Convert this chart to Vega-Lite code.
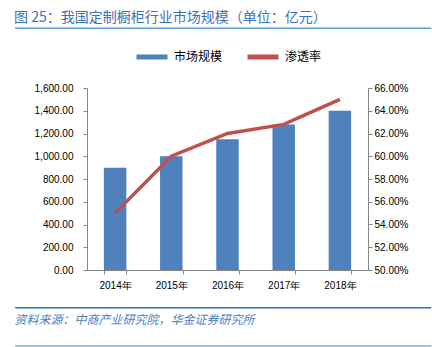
{
  "$schema": "https://vega.github.io/schema/vega-lite/v6.json",
  "padding": {"left": 14, "top": 10, "right": 2, "bottom": 1},
  "spacing": 1,
  "title": {"text": "图 25：我国定制橱柜行业市场规模（单位：亿元）", "anchor": "start", "frame": "bounds", "fontSize": 14, "font": "Noto Sans CJK SC", "color": "#3d71b8", "fontWeight": "normal", "offset": 3},
  "resolve": {"scale": {"color": "independent"}, "legend": {"color": "independent"}},
  "config": {
    "font": "Liberation Sans",
    "axis": {"grid": false},
    "legend": {"layout": {"top": {"anchor": "middle"}}}
  },
  "vconcat": [
    {
      "width": 344,
      "height": 10,
      "view": {"stroke": null},
      "data": {"values": [{"k": 0}]},
      "mark": {"type": "rule", "color": "#5b9bd5", "strokeWidth": 1},
      "encoding": {
        "x": {"datum": 0, "type": "quantitative", "scale": {"domain": [0, 1], "range": [-72, 344]},
          "axis": {"orient": "top", "domainColor": "#5b9bd5", "domainWidth": 1, "ticks": false, "labels": false, "title": null, "grid": false}},
        "x2": {"datum": 1},
        "y": {"datum": 1, "type": "quantitative", "scale": {"domain": [0, 1]}, "axis": null}
      }
    },
    {
      "width": 281,
      "height": 182,
      "view": {"stroke": null},
      "data": {"values": [
        {"year": "2014年", "market": 900, "rate": 0.55},
        {"year": "2015年", "market": 1000, "rate": 0.60},
        {"year": "2016年", "market": 1150, "rate": 0.62},
        {"year": "2017年", "market": 1280, "rate": 0.628},
        {"year": "2018年", "market": 1400, "rate": 0.65}
      ]},
      "encoding": {
        "x": {
          "field": "year", "type": "ordinal", "sort": null,
          "scale": {"paddingInner": 0.6, "paddingOuter": 0.3},
          "axis": {"title": null, "labelAngle": 0, "tickBand": "extent", "domainColor": "#868686", "tickColor": "#868686", "tickSize": 4, "labelPadding": 6, "labelFontSize": 10, "labelColor": "#000000"}
        }
      },
      "layer": [
        {
          "mark": {"type": "bar"},
          "encoding": {
            "y": {"field": "market", "type": "quantitative", "scale": {"domain": [0, 1600]},
              "axis": {"title": null, "values": [0, 200, 400, 600, 800, 1000, 1200, 1400, 1600], "format": ",.2f", "domainColor": "#868686", "tickColor": "#868686", "tickSize": 4, "labelPadding": 10, "labelFontSize": 10, "labelColor": "#000000", "minExtent": 72}},
            "color": {"datum": "市场规模", "type": "nominal",
              "scale": {"domain": ["市场规模", "渗透率"], "range": ["#4f81bd", "#c0504d"]},
              "legend": {"title": null, "orient": "top", "direction": "horizontal", "symbolType": "stroke", "symbolSize": 961, "symbolStrokeWidth": 5, "labelFontSize": 12, "labelFont": "Noto Sans CJK SC", "labelColor": "#000000", "columnPadding": 14, "labelOffset": 4, "padding": 0, "offset": 21,
                "encode": {"symbols": {"update": {"stroke": {"scale": "color", "field": "value"}, "strokeWidth": {"value": 5}, "opacity": {"value": 1}}}}}
            }
          }
        },
        {
          "mark": {"type": "line", "strokeWidth": 3.5},
          "encoding": {
            "y": {"field": "rate", "type": "quantitative", "scale": {"domain": [0.5, 0.66]},
              "axis": {"orient": "right", "title": null, "values": [0.5, 0.52, 0.54, 0.56, 0.58, 0.6, 0.62, 0.64, 0.66], "format": ".2%", "domainColor": "#868686", "tickColor": "#868686", "tickSize": 4, "labelPadding": 2, "labelFontSize": 10, "labelColor": "#000000"}},
            "color": {"datum": "渗透率", "type": "nominal"}
          }
        }
      ],
      "resolve": {"scale": {"y": "independent"}}
    },
    {
      "width": 344,
      "height": 16.5,
      "view": {"stroke": null},
      "title": {"text": "资料来源：中商产业研究院，华金证券研究所", "orient": "bottom", "anchor": "start", "frame": "bounds", "fontSize": 12, "font": "Noto Sans CJK SC", "fontStyle": "italic", "color": "#4a7ebb", "fontWeight": "normal", "offset": 6.5},
      "data": {"values": [{"k": 0}]},
      "mark": {"type": "rule", "color": "#2e75b6", "strokeWidth": 1},
      "encoding": {
        "x": {"datum": 0, "type": "quantitative", "scale": {"domain": [0, 1], "range": [-72, 344]},
          "axis": {"orient": "bottom", "domainColor": "#2e75b6", "domainWidth": 1, "ticks": false, "labels": false, "title": null, "grid": false}},
        "x2": {"datum": 1},
        "y": {"datum": 0, "type": "quantitative", "scale": {"domain": [0, 1]}, "axis": null}
      }
    },
    {
      "width": 344,
      "height": 19,
      "view": {"stroke": null},
      "data": {"values": [{"k": 0}]},
      "mark": {"type": "rule", "color": "#9dc3e6", "strokeWidth": 2},
      "encoding": {
        "x": {"datum": 0, "type": "quantitative", "scale": {"domain": [0, 1], "range": [-72, 344]},
          "axis": {"orient": "bottom", "domainColor": "#9dc3e6", "domainWidth": 2, "ticks": false, "labels": false, "title": null, "grid": false}},
        "x2": {"datum": 1},
        "y": {"datum": 0, "type": "quantitative", "scale": {"domain": [0, 1]}, "axis": null}
      }
    }
  ]
}
